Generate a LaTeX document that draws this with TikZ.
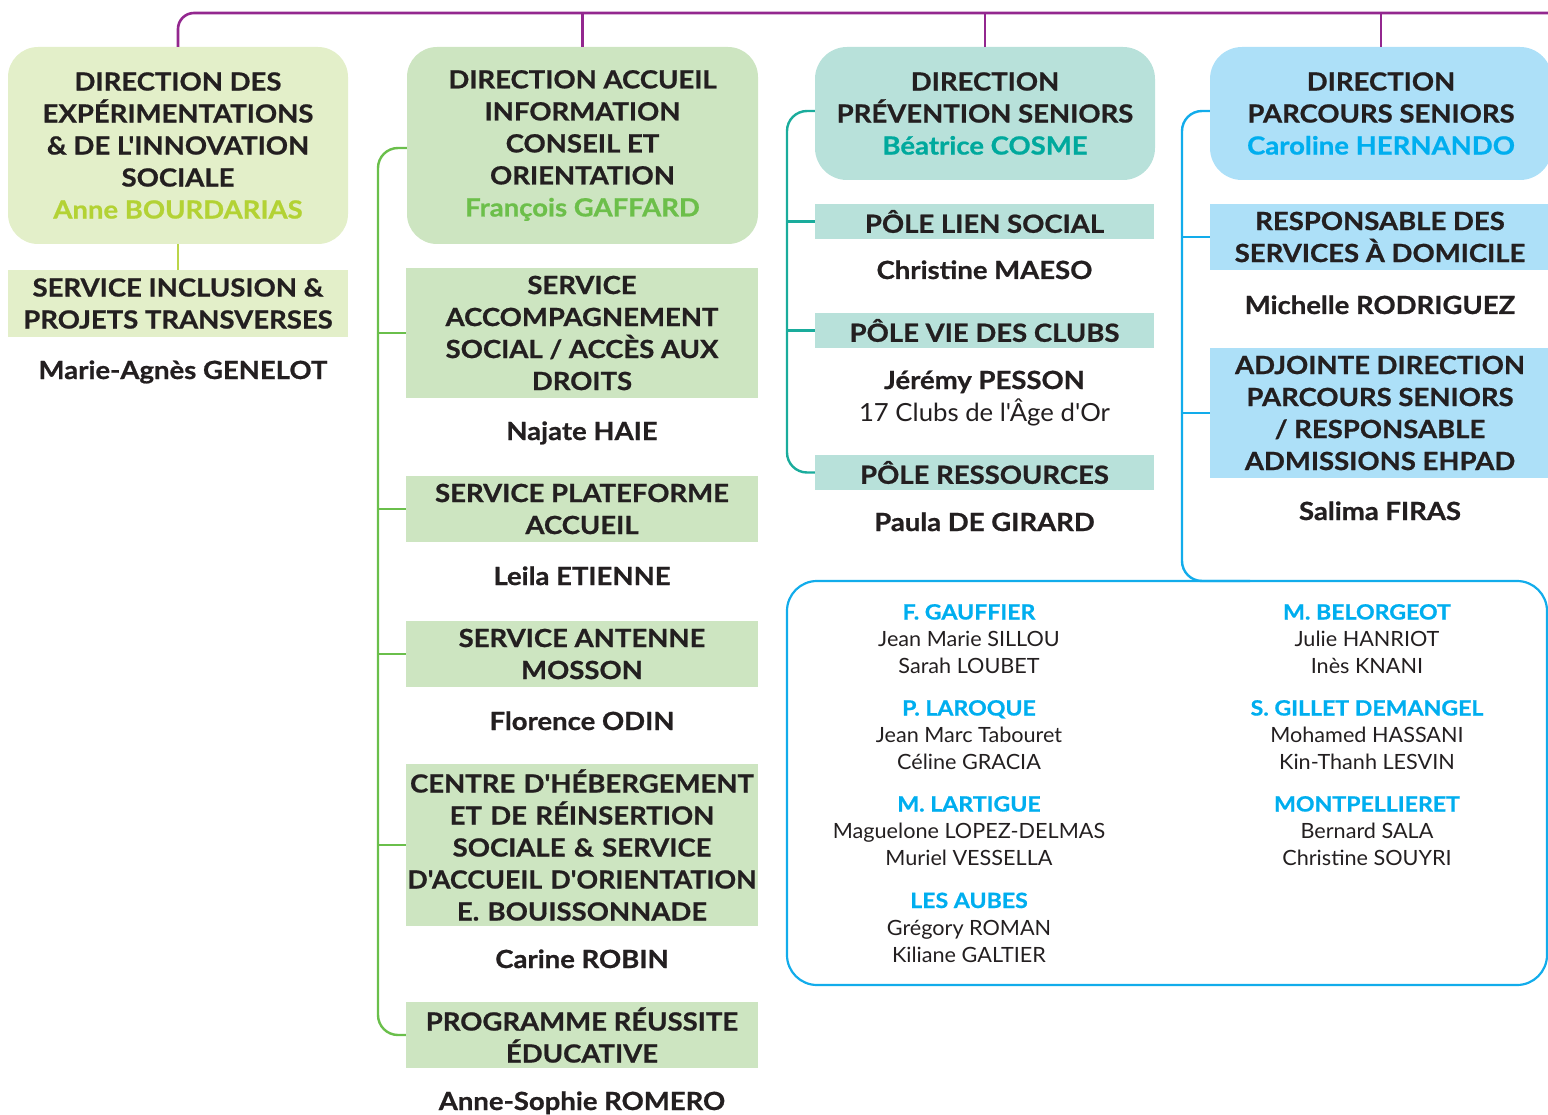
\documentclass[tikz,border=0pt]{standalone}
\usepackage{fontspec}
\usepackage{graphicx}
\setmainfont{Lato}[Ligatures=TeXOff, FakeStretch=1.03, BoldFeatures={FakeStretch=1.1, FakeBold=0.8}]
\usetikzlibrary{calc}
\definecolor{txt}{HTML}{231F20}
\definecolor{purp}{HTML}{93278F}
\definecolor{gAbox}{HTML}{E3EFC9}
\definecolor{gAname}{HTML}{B3D234}
\definecolor{gAline}{HTML}{BBD54A}
\definecolor{gBbox}{HTML}{CDE5C1}
\definecolor{gBname}{HTML}{6CBF4A}
\definecolor{gBline}{HTML}{6ABF4B}
\definecolor{tCbox}{HTML}{B8E1DA}
\definecolor{tCname}{HTML}{00A99D}
\definecolor{tCline}{HTML}{1AAC9C}
\definecolor{bDbox}{HTML}{ADE0F8}
\definecolor{bDname}{HTML}{00AEEF}
\definecolor{bDline}{HTML}{12ACEB}
\tikzset{
  hd/.style={font=\fontsize{25}{32}\selectfont\bfseries, text=txt, align=center, inner sep=0pt},
  dirbox/.style={hd, rounded corners=30pt},
  svcbox/.style={hd},
  person/.style={font=\fontsize{25}{32}\selectfont\bfseries, text=txt, anchor=base, inner sep=0pt},
  personlight/.style={font=\fontsize{25}{32}\selectfont, text=txt, anchor=base, inner sep=0pt},
  bhead/.style={font=\fontsize{21}{27}\selectfont\bfseries, text=bDname, anchor=base, inner sep=0pt},
  bname/.style={font=\fontsize{21}{27}\selectfont, text=txt, anchor=base, inner sep=0pt},
  conn/.style={line width=2.4pt, rounded corners=20pt},
}
\begin{document}
\begin{tikzpicture}[x=1pt, y=-1pt]
\useasboundingbox (0,0) rectangle (1548,1115);
% ---------- column 1 ----------
\node[dirbox, fill=gAbox, minimum width=340pt, minimum height=197pt] (d1) at (178,145.5)
  {DIRECTION DES\\EXPÉRIMENTATIONS\\\& DE L'INNOVATION\\SOCIALE\\\textcolor{gAname}{Anne BOURDARIAS}};
\node[svcbox, fill=gAbox, minimum width=340pt, minimum height=67pt] (s1) at (178,303.5)
  {SERVICE INCLUSION \&\\PROJETS TRANSVERSES};
\node[person] (n1) at (183,379) {Marie-Agnès GENELOT};
% ---------- column 2 ----------
\node[dirbox, fill=gBbox, minimum width=351pt, minimum height=197pt] (d2) at (582.5,145.5)
  {DIRECTION ACCUEIL\\INFORMATION\\CONSEIL ET\\ORIENTATION\\\textcolor{gBname}{François GAFFARD}};
\node[svcbox, fill=gBbox, minimum width=352pt, minimum height=130pt] (s2a) at (582,333)
  {SERVICE\\ACCOMPAGNEMENT\\SOCIAL / ACCÈS AUX\\DROITS};
\node[person] (n2a) at (582,440) {Najate HAIE};
\node[svcbox, fill=gBbox, minimum width=352pt, minimum height=66pt] (s2b) at (582,509)
  {SERVICE PLATEFORME\\ACCUEIL};
\node[person] (n2b) at (582,585) {Leila ETIENNE};
\node[svcbox, fill=gBbox, minimum width=352pt, minimum height=66pt] (s2c) at (582,654)
  {SERVICE ANTENNE\\MOSSON};
\node[person] (n2c) at (582,730) {Florence ODIN};
\node[svcbox, fill=gBbox, text width=352pt, minimum height=162pt] (s2d) at (582,845)
  {CENTRE D'HÉBERGEMENT\\ET DE RÉINSERTION\\SOCIALE \& SERVICE\\\scalebox{0.975}[1]{D'ACCUEIL D'ORIENTATION}\\E. BOUISSONNADE};
\node[person] (n2d) at (582,968) {Carine ROBIN};
\node[svcbox, fill=gBbox, minimum width=352pt, minimum height=66pt] (s2e) at (582,1035)
  {PROGRAMME RÉUSSITE\\ÉDUCATIVE};
\node[person] (n2e) at (582,1110) {Anne-Sophie ROMERO};
% ---------- column 3 ----------
\node[dirbox, fill=tCbox, rounded corners=32pt, minimum width=340pt, minimum height=133pt] (d3) at (985,113.5)
  {DIRECTION\\PRÉVENTION SENIORS\\\textcolor{tCname}{Béatrice COSME}};
\node[svcbox, fill=tCbox, minimum width=339pt, minimum height=35pt] (p3a) at (984.5,221.5) {PÔLE LIEN SOCIAL};
\node[person] (n3a) at (984.5,279) {Christine MAESO};
\node[svcbox, fill=tCbox, minimum width=339pt, minimum height=35pt] (p3b) at (984.5,330.5) {PÔLE VIE DES CLUBS};
\node[person] (n3b) at (984.5,389) {Jérémy PESSON};
\node[personlight] (n3c) at (984.5,421) {17 Clubs de l'Âge d'Or};
\node[svcbox, fill=tCbox, minimum width=339pt, minimum height=35pt] (p3c) at (984.5,472.5) {PÔLE RESSOURCES};
\node[person] (n3d) at (984.5,531) {Paula DE GIRARD};
% ---------- column 4 ----------
\node[dirbox, fill=bDbox, rounded corners=32pt, minimum width=342pt, minimum height=133pt] (d4) at (1381,113.5)
  {DIRECTION\\PARCOURS SENIORS\\\textcolor{bDname}{Caroline HERNANDO}};
\node[svcbox, fill=bDbox, minimum width=340pt, minimum height=66pt] (s4a) at (1380,237)
  {RESPONSABLE DES\\SERVICES À DOMICILE};
\node[person] (n4a) at (1380,314) {Michelle RODRIGUEZ};
\node[svcbox, fill=bDbox, minimum width=340pt, minimum height=130pt] (s4b) at (1380,413)
  {ADJOINTE DIRECTION\\PARCOURS SENIORS\\/ RESPONSABLE\\ADMISSIONS EHPAD};
\node[person] (n4b) at (1380,520) {Salima FIRAS};
% ---------- bottom box ----------
\node[draw=bDline, line width=2.2pt, rounded corners=30pt, minimum width=760pt, minimum height=404pt, inner sep=0pt] (bb) at (1167,783) {};
\node[bhead] (h1) at (969,619.5) {F. GAUFFIER};
\node[bname] (h1a) at (969,646.5) {Jean Marie SILLOU};
\node[bname] (h1b) at (969,673.5) {Sarah LOUBET};
\node[bhead] (h2) at (969,715.5) {P. LAROQUE};
\node[bname] (h2a) at (969,742.5) {Jean Marc Tabouret};
\node[bname] (h2b) at (969,769.5) {Céline GRACIA};
\node[bhead] (h3) at (969,811.5) {M. LARTIGUE};
\node[bname] (h3a) at (969,838.5) {Maguelone LOPEZ-DELMAS};
\node[bname] (h3b) at (969,865.5) {Muriel VESSELLA};
\node[bhead] (h4) at (969,908) {LES AUBES};
\node[bname] (h4a) at (969,935) {Grégory ROMAN};
\node[bname] (h4b) at (969,962) {Kiliane GALTIER};
\node[bhead] (r1) at (1367,619.5) {M. BELORGEOT};
\node[bname] (r1a) at (1367,646.5) {Julie HANRIOT};
\node[bname] (r1b) at (1367,673.5) {Inès KNANI};
\node[bhead] (r2) at (1367,715.5) {S. GILLET DEMANGEL};
\node[bname] (r2a) at (1367,742.5) {Mohamed HASSANI};
\node[bname] (r2b) at (1367,769.5) {Kin-Thanh LESVIN};
\node[bhead] (r3) at (1367,811.5) {MONTPELLIERET};
\node[bname] (r3a) at (1367,838.5) {Bernard SALA};
\node[bname] (r3b) at (1367,865.5) {Christine SOUYRI};
% ---------- connectors ----------
\coordinate (topR) at (1550,13);
\draw[purp, line width=2.6pt, rounded corners=16pt] (d1.north) |- (topR);
\draw[purp, line width=2.6pt] (d2.north) -- (d2.north |- topR);
\draw[purp, line width=2.6pt] (d3.north) -- (d3.north |- topR);
\draw[purp, line width=2.6pt] (d4.north) -- (d4.north |- topR);
\draw[gAline, line width=2.4pt] (d1.south) -- (s1.north);
\coordinate (c2) at (378,0);
\draw[gBline, conn] ($(d2.west)+(0,2.5)$) -- ($(d2.west -| c2)+(0,2.5)$) -- (s2e.west -| c2) -- (s2e.west);
\foreach \s in {s2a,s2b,s2c,s2d} \draw[gBline, line width=2.4pt] (\s.west -| c2) -- (\s.west);
\coordinate (c3) at (787,0);
\draw[tCline, conn] ($(d3.west)+(0,-2.5)$) -- ($(d3.west -| c3)+(0,-2.5)$) -- (p3c.west -| c3) -- (p3c.west);
\foreach \s in {p3a,p3b} \draw[tCline, line width=2.4pt] (\s.west -| c3) -- (\s.west);
\coordinate (c4) at (1182,0);
\coordinate (e4) at (1250,581);
\draw[bDline, conn] ($(d4.west)+(0,-2.5)$) -- ($(d4.west -| c4)+(0,-2.5)$) -- (c4 |- e4) -- (e4);
\foreach \s in {s4a,s4b} \draw[bDline, line width=2.4pt] (\s.west -| c4) -- (\s.west);
\end{tikzpicture}
\end{document}
